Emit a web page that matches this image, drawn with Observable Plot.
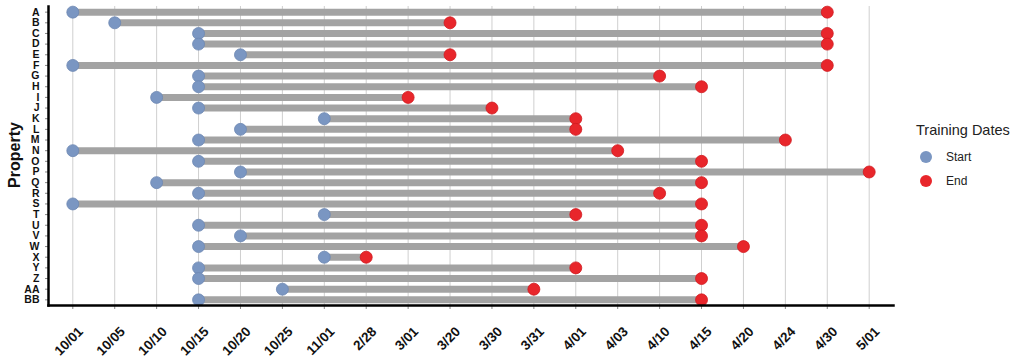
<!DOCTYPE html>
<html><head><meta charset="utf-8">
<script src="https://cdn.jsdelivr.net/npm/d3@7"></script>
<script src="https://cdn.jsdelivr.net/npm/@observablehq/plot@0.6"></script>
<style>
body{margin:0;background:#fff;font-family:"Liberation Sans",Arial,sans-serif;}
#wrap{position:relative;width:1024px;height:358px;overflow:hidden;}
#legend{position:absolute;left:916px;top:122px;color:#222;}
#legend .title{font-size:14.5px;margin-bottom:7px;}
#legend .row{display:flex;align-items:center;height:24px;font-size:12px;}
#legend .dot{width:12px;height:12px;border-radius:50%;margin-left:4px;margin-right:14px;}
</style>
</head><body><div id="wrap"></div>
<script>
const dateTicks = ["10/01","10/05","10/10","10/15","10/20","10/25","11/01","2/28","3/01","3/20","3/30","3/31","4/01","4/03","4/10","4/15","4/20","4/24","4/30","5/01"];
const properties = ["A","B","C","D","E","F","G","H","I","J","K","L","M","N","O","P","Q","R","S","T","U","V","W","X","Y","Z","AA","BB"];
const startDates = ["10/01","10/05","10/15","10/15","10/20","10/01","10/15","10/15","10/10","10/15","11/01","10/20","10/15","10/01","10/15","10/20","10/10","10/15","10/01","11/01","10/15","10/20","10/15","11/01","10/15","10/15","10/25","10/15"];
const endDates = ["4/30","3/20","4/30","4/30","3/20","4/30","4/10","4/15","3/01","3/30","4/01","4/01","4/24","4/03","4/15","5/01","4/15","4/10","4/15","4/01","4/15","4/15","4/20","2/28","4/01","4/15","3/31","4/15"];
const seriesNames = ["Start","End"];
const seriesColors = ["#7a96c2","#e8262b"];
const legendTitle = "Training Dates";
const yTitle = "Property";

const rows = properties.map((p,i)=>({property:p,start:startDates[i],end:endDates[i]}));
const pts = rows.flatMap(d=>[{property:d.property,date:d.start,type:"Start"},{property:d.property,date:d.end,type:"End"}]);

const chart = Plot.plot({
  width: 1024,
  height: 358,
  marginLeft: 48,
  marginRight: 131,
  marginTop: 6,
  marginBottom: 53,
  style: {fontFamily: '"Liberation Sans", Arial, sans-serif', background: "#fff", color: "#111"},
  x: {type: "point", domain: dateTicks, padding: 0.58, round: false, label: null, tickRotate: -45, tickSize: 4},
  y: {type: "point", domain: properties, padding: 0.53, round: false, label: null, tickSize: 3},
  color: {domain: seriesNames, range: seriesColors},
  marks: [
    Plot.gridX({stroke: "#cfcfcf", strokeOpacity: 1, strokeWidth: 1}),
    Plot.link(rows, {x1: "start", x2: "end", y1: "property", y2: "property", stroke: "#a3a3a3", strokeWidth: 7, strokeLinecap: "butt"}),
    Plot.dot(pts.filter(d=>d.type==="Start"), {x: "date", y: "property", fill: "type", r: 6, stroke: "#6d88b3", strokeWidth: 0.8}),
    Plot.dot(pts.filter(d=>d.type==="End"), {x: "date", y: "property", fill: "type", r: 6, stroke: "#d11a20", strokeWidth: 0.8}),
    Plot.frame({anchor: "left", stroke: "#000", strokeWidth: 2.5}),
    Plot.frame({anchor: "bottom", stroke: "#000", strokeWidth: 2.5})
  ]
});
chart.style.display = "block";
document.getElementById("wrap").appendChild(chart);

// style axis labels
const xl = chart.querySelector('g[aria-label="x-axis tick label"]');
if (xl) {
  xl.setAttribute("font-size","13.5");
  xl.setAttribute("font-weight","bold");
  const tr = xl.getAttribute("transform") || "";
  xl.setAttribute("transform", "translate(8,12) " + tr);
}
const yl = chart.querySelector('g[aria-label="y-axis tick label"]');
if (yl) { yl.setAttribute("font-size","10.5"); yl.setAttribute("font-weight","bold"); }
const xt = chart.querySelector('g[aria-label="x-axis tick"]');
if (xt) xt.setAttribute("stroke","#888");
const yt = chart.querySelector('g[aria-label="y-axis tick"]');
if (yt) yt.setAttribute("stroke","#888");

// y title
const svgNS = "http://www.w3.org/2000/svg";
const title = document.createElementNS(svgNS, "text");
title.textContent = yTitle;
title.setAttribute("transform", "translate(20,155) rotate(-90)");
title.setAttribute("text-anchor", "middle");
title.setAttribute("font-size", "16");
title.setAttribute("font-weight", "bold");
title.setAttribute("fill", "#111");
chart.appendChild(title);

// legend
const lg = document.createElement("div");
lg.id = "legend";
lg.innerHTML = `<div class="title">${legendTitle}</div>` + seriesNames.map((n,i)=>`<div class="row"><span class="dot" style="background:${seriesColors[i]}"></span>${n}</div>`).join("");
document.getElementById("wrap").appendChild(lg);
</script>
</body></html>
